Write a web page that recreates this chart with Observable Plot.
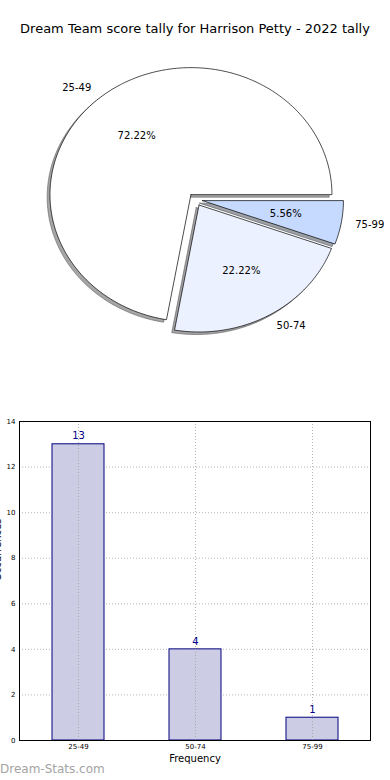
<!DOCTYPE html>
<html><head><meta charset="utf-8">
<script src="https://cdn.jsdelivr.net/npm/d3@7"></script>
<script src="https://cdn.jsdelivr.net/npm/@observablehq/plot@0.6"></script>
<style>
body{margin:0;background:#fff;font-family:"DejaVu Sans",sans-serif;}
#wrap{position:relative;width:390px;height:780px;overflow:hidden;background:#fff;}
#title{position:absolute;top:21px;left:0;width:390px;text-align:center;font-size:13px;line-height:16px;color:#000;}
#pie{position:absolute;top:0;left:0;}
#bar{position:absolute;top:400px;left:0;}
#wm{position:absolute;left:0;top:762px;font-size:12px;line-height:14px;color:#a4a4a4;}
svg{font-family:"DejaVu Sans",sans-serif;}
</style></head><body>
<div id="wrap"><div id="pie"></div><div id="title"></div><div id="bar"></div><div id="wm"></div></div>
<script>
const titleText = "Dream Team score tally for Harrison Petty - 2022 tally";
const categories = ["25-49", "50-74", "75-99"];
const counts = [13, 4, 1];
const sliceColors = ["#ffffff", "#ebf1fe", "#c6d9fe"];
const yTicks = [0, 2, 4, 6, 8, 10, 12, 14];
const xLabel = "Frequency";
const yLabel = "Occurrences";
const watermark = "Dream-Stats.com";

document.getElementById("title").textContent = titleText;
document.getElementById("wm").textContent = watermark;

// ---- pie geometry from the data (matplotlib style: start 0°, counter-clockwise) ----
const total = d3.sum(counts);
const explode = 0.05, labelDist = 1.1, pctDist = 0.6, shadowOff = -0.02;
const slices = [];
let start = 0;
counts.forEach((v, i) => {
  const span = v / total * 2 * Math.PI;
  const a0 = start, am = start + span / 2;
  const cx = explode * Math.cos(am), cy = explode * Math.sin(am);
  const pts = [[cx, cy]];
  const n = Math.max(6, Math.ceil(span / (Math.PI / 180)));
  for (let k = 0; k <= n; k++) {
    const a = a0 + span * k / n;
    pts.push([cx + Math.cos(a), cy + Math.sin(a)]);
  }
  pts.push([cx, cy]);
  slices.push({cat: categories[i], value: v, pct: (100 * v / total).toFixed(2) + "%",
    color: sliceColors[i], am, cx, cy, pts});
  start += span;
});

function shade(c) {
  const r = d3.rgb(c);
  return d3.rgb(r.r * 0.3, r.g * 0.3, r.b * 0.3).formatHex();
}

const W = 390, H = 390, rxPx = 141, ryPx = 127, cxPx = 195, cyPx = 199;
const pieMarks = [];
slices.forEach(s => {
  pieMarks.push(Plot.line(s.pts, {x: d => d[0] + shadowOff, y: d => d[1] + shadowOff,
    fill: shade(s.color), fillOpacity: 0.5, stroke: shade(s.color), strokeOpacity: 0.5, strokeWidth: 1}));
});
slices.forEach(s => {
  pieMarks.push(Plot.line(s.pts, {x: d => d[0], y: d => d[1], fill: s.color, stroke: "#000", strokeWidth: 0.7}));
});
pieMarks.push(Plot.text(slices.filter(d => Math.cos(d.am) < 0), {
  x: d => d.cx + labelDist * Math.cos(d.am), y: d => d.cy + labelDist * Math.sin(d.am),
  text: "cat", textAnchor: "end", fontSize: 10, fill: "#000"}));
pieMarks.push(Plot.text(slices.filter(d => Math.cos(d.am) >= 0), {
  x: d => d.cx + labelDist * Math.cos(d.am), y: d => d.cy + labelDist * Math.sin(d.am),
  text: "cat", textAnchor: "start", fontSize: 10, fill: "#000"}));
pieMarks.push(Plot.text(slices, {
  x: d => d.cx + pctDist * Math.cos(d.am), y: d => d.cy + pctDist * Math.sin(d.am),
  text: "pct", textAnchor: "middle", fontSize: 10, fill: "#000"}));

const pie = Plot.plot({
  width: W, height: H, margin: 0,
  style: {background: "transparent", fontFamily: "DejaVu Sans"},
  x: {domain: [-cxPx / rxPx, (W - cxPx) / rxPx], range: [0, W], axis: null},
  y: {domain: [-(H - cyPx) / ryPx, cyPx / ryPx], range: [H, 0], axis: null},
  marks: pieMarks
});
document.getElementById("pie").appendChild(pie);

// ---- bar chart ----
const rows = categories.map((c, i) => ({cat: c, value: counts[i]}));
const gridStyle = {stroke: "#999", strokeOpacity: 0.7, strokeDasharray: "1,2", strokeWidth: 1};
const bar = Plot.plot({
  width: 390, height: 380, marginLeft: 19, marginRight: 20, marginTop: 21, marginBottom: 40,
  style: {background: "transparent", fontFamily: "DejaVu Sans", fontSize: "7px", overflow: "visible"},
  x: {domain: categories, paddingInner: 0.556, paddingOuter: 0.278, label: null},
  y: {domain: [0, 14], label: null},
  marks: [
    Plot.gridY(yTicks, gridStyle),
    Plot.barY(rows, {x: "cat", y: "value", fill: "#ccccE4", stroke: "#00007f", strokeWidth: 1}),
    Plot.gridX(categories, gridStyle),
    Plot.axisY(yTicks, {tickSize: 0, tickPadding: 4, fontSize: 7, fill: "#000", label: null}),
    Plot.axisX({tickSize: 0, tickPadding: 4, fontSize: 7, fill: "#000", label: null}),
    Plot.frame({stroke: "#000", strokeWidth: 1}),
    Plot.text(rows, {x: "cat", y: "value", text: d => String(d.value), dy: -8, fill: "#00008b", fontSize: 10}),
    Plot.text([xLabel], {frameAnchor: "bottom", dy: 21, text: d => d, fontSize: 10, fill: "#000"}),
    Plot.text([yLabel], {frameAnchor: "left", dx: -18.5, rotate: -90, lineAnchor: "bottom", text: d => d, fontSize: 10, fill: "#000"})
  ]
});
document.getElementById("bar").appendChild(bar);
</script>
</body></html>
